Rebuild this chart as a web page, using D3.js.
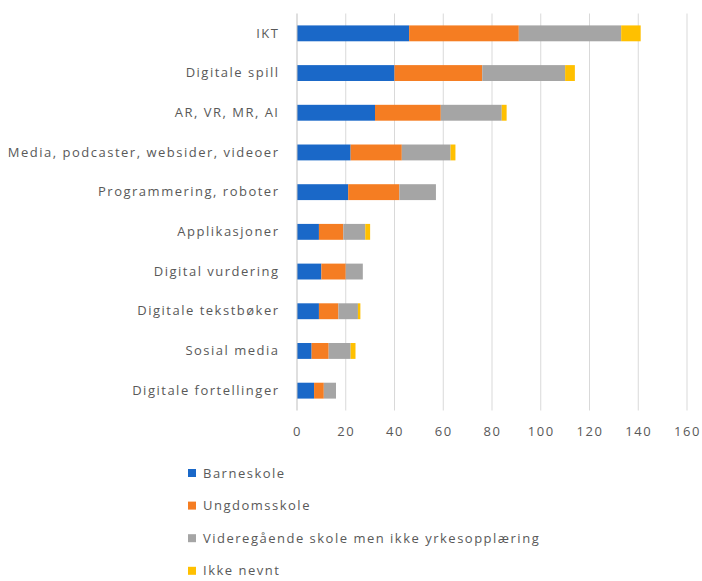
<!DOCTYPE html>
<html>
<head>
<meta charset="utf-8">
<script src="https://cdn.jsdelivr.net/npm/d3@7"></script>
<style>
  html, body { margin: 0; padding: 0; background: #ffffff; }
  svg { display: block; }
  text { font-family: "Open Sans", "Noto Sans", sans-serif; fill: #595959; letter-spacing: 1.5px; }
</style>
</head>
<body>
<svg id="chart" width="702" height="581"></svg>
<script>
// Categories, top to bottom
const categories = [
  "IKT",
  "Digitale spill",
  "AR, VR, MR, AI",
  "Media, podcaster, websider, videoer",
  "Programmering, roboter",
  "Applikasjoner",
  "Digital vurdering",
  "Digitale tekstbøker",
  "Sosial media",
  "Digitale fortellinger"
];

const seriesNames = [
  "Barneskole",
  "Ungdomsskole",
  "Videregående skole men ikke yrkesopplæring",
  "Ikke nevnt"
];

const barneskole   = [46, 40, 32, 22, 21,  9, 10, 9, 6, 7];
const ungdomsskole = [45, 36, 27, 21, 21, 10, 10, 8, 7, 4];
const videregaende = [42, 34, 25, 20, 15,  9,  7, 8, 9, 5];
const ikkeNevnt    = [ 8,  4,  2,  2,  0,  2,  0, 1, 2, 0];

const xTicks = [0, 20, 40, 60, 80, 100, 120, 140, 160];
const colors = ["#1a68c8", "#f57d22", "#a5a5a5", "#ffc000"];

const rows = categories.map((c, i) => ({
  category: c,
  [seriesNames[0]]: barneskole[i],
  [seriesNames[1]]: ungdomsskole[i],
  [seriesNames[2]]: videregaende[i],
  [seriesNames[3]]: ikkeNevnt[i]
}));

const svg = d3.select("#chart");
const plot = { left: 297, right: 687, top: 13.5, bottom: 410.5 };

const x = d3.scaleLinear().domain([0, 160]).range([plot.left, plot.right]);
const y = d3.scaleBand().domain(categories).range([plot.top, plot.bottom]).paddingInner(0.6).paddingOuter(0.3);

// vertical gridlines
svg.append("g")
  .selectAll("line")
  .data(xTicks.filter(t => t > 0))
  .join("line")
  .attr("x1", d => x(d)).attr("x2", d => x(d))
  .attr("y1", plot.top).attr("y2", plot.bottom)
  .attr("stroke", "#d9d9d9").attr("stroke-width", 1);

// stacked bars
const stack = d3.stack().keys(seriesNames);
const layers = stack(rows);

svg.append("g")
  .selectAll("g")
  .data(layers)
  .join("g")
  .attr("fill", (d, i) => colors[i])
  .selectAll("rect")
  .data(d => d)
  .join("rect")
  .attr("x", d => x(d[0]))
  .attr("width", d => Math.max(0, x(d[1]) - x(d[0])))
  .attr("y", d => y(d.data.category))
  .attr("height", y.bandwidth());

// category axis line
svg.append("line")
  .attr("x1", x(0)).attr("x2", x(0))
  .attr("y1", plot.top).attr("y2", plot.bottom)
  .attr("stroke", "#bfbfbf").attr("stroke-width", 1);

// category labels
const yAxis = d3.axisLeft(y).tickSize(0).tickPadding(17.5);
const gy = svg.append("g").attr("transform", `translate(${x(0)},0)`).call(yAxis);
gy.select(".domain").remove();
gy.selectAll("text")
  .style("font-family", "\"Open Sans\", sans-serif")
  .style("font-size", "13px")
  .attr("fill", "#595959");

// value axis
const xAxis = d3.axisBottom(x).tickValues(xTicks).tickSize(0).tickPadding(16);
const gx = svg.append("g").attr("transform", `translate(0,${plot.bottom})`).call(xAxis);
gx.select(".domain").remove();
gx.selectAll("text")
  .style("font-family", "\"Open Sans\", sans-serif")
  .style("font-size", "13px")
  .attr("fill", "#595959");

// legend
const legend = svg.append("g").attr("transform", "translate(188,473)");
const item = legend.selectAll("g")
  .data(seriesNames)
  .join("g")
  .attr("transform", (d, i) => `translate(0,${i * 32.6})`);
item.append("rect")
  .attr("x", 0).attr("y", -4).attr("width", 8).attr("height", 8)
  .attr("fill", (d, i) => colors[i]);
item.append("text")
  .attr("x", 15).attr("dy", "0.35em")
  .style("font-size", "13px")
  .text(d => d);
</script>
</body>
</html>
